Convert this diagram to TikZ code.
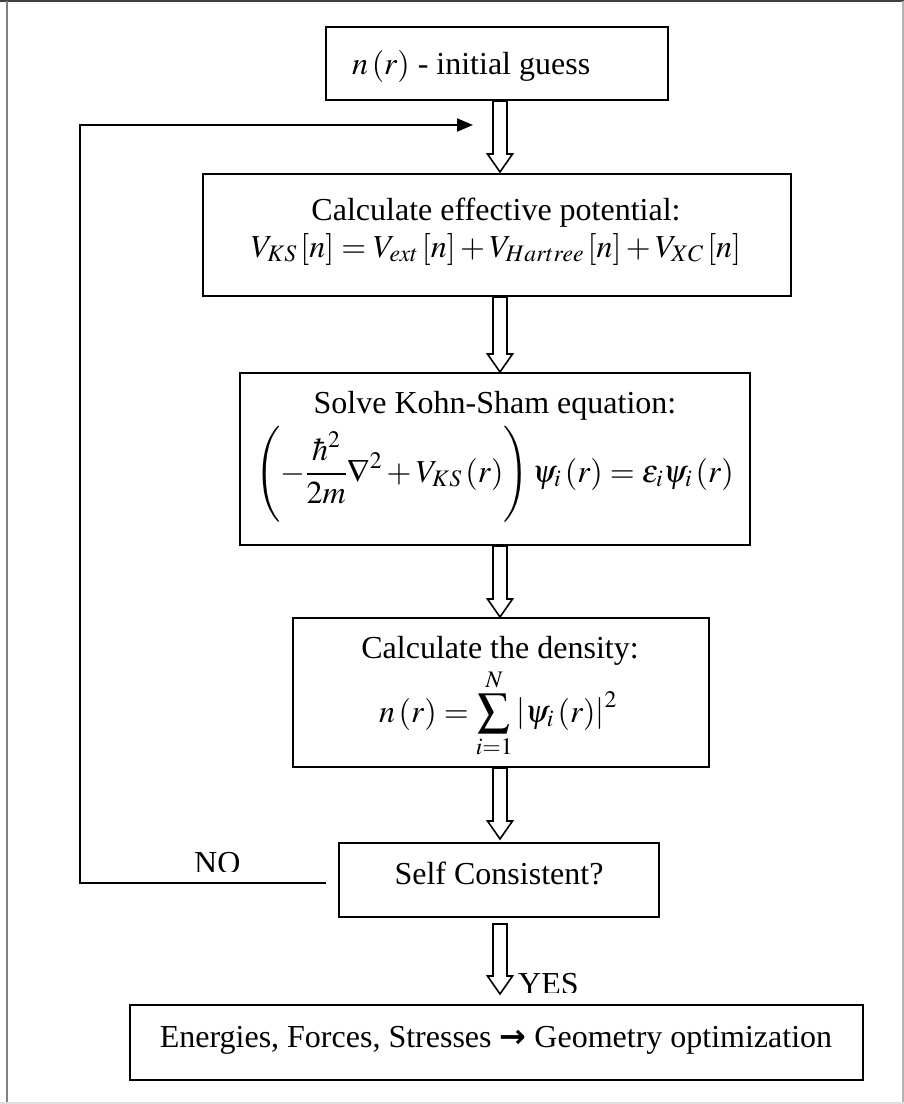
\documentclass[tikz,border=0pt]{standalone}
\usepackage{mathptmx}
\usepackage{fontspec}
\setmainfont{Liberation Serif}
\newfontfamily\arrowfont{DejaVu Sans}
\usetikzlibrary{arrows.meta,calc}
\newcommand\blockarrow[4]{%
  \draw[barrow] let \p1=(ax |- #1.south), \p2=(ax |- #2.north) in
    (\x1-7pt,\y1-#3) -- (\x1+7pt,\y1-#3) -- (\x1+7pt,\y2+#4+18pt)
    -- (\x1+12.5pt,\y2+#4+18pt) -- (\x1,\y2+#4) -- (\x1-12.5pt,\y2+#4+18pt)
    -- (\x1-7pt,\y2+#4+18pt) -- cycle;}
\begin{document}
\begin{tikzpicture}[x=1pt,y=-1pt,
  box/.style={draw=black,line width=2pt,inner sep=0pt,fill=none},
  txt/.style={inner sep=0pt,font=\fontsize{32pt}{38pt}\selectfont},
  barrow/.style={draw=black,fill=white,line width=1.6pt,line join=miter},
  loopline/.style={draw=black,line width=2pt,-{Triangle[length=16pt,width=13pt]}}]
% page and frame
\fill[white] (0,0) rectangle (904,1104);
\useasboundingbox (0,0) rectangle (904,1104);
\draw[line width=2pt,black!75] (0,1) -- (904,1);
\draw[line width=1.5pt,black!50] (7,1) -- (7,1104);
\draw[line width=1.5pt,black!30] (903,1) -- (903,1104);
\draw[line width=1.5pt,black!12] (0,1103) -- (904,1103);
\coordinate (ax) at (500,0);
% boxes
\node[box,minimum width=342pt,minimum height=73pt] (guess) at (497,63.5) {};
\node[box,minimum width=588pt,minimum height=122pt] (veff) at (497,235) {};
\node[box,minimum width=510pt,minimum height=172pt] (ks) at (495,459) {};
\node[box,minimum width=416pt,minimum height=149pt] (dens) at (501,692.5) {};
\node[box,minimum width=320pt,minimum height=74pt] (sc) at (499,880) {};
\node[box,minimum width=733pt,minimum height=75pt] (out) at (496.5,1042.5) {};
% texts
\node[txt,anchor=base west] (guesstxt) at (352,74) {$n\left(r\right)$ - initial guess};
\node[txt,anchor=base] (vefftxt) at (496,220) {Calculate effective potential:};
\node[txt,anchor=base] (vefffor) at (496,257) {$V_{KS}\left[n\right]=V_{ext}\left[n\right]+V_{Hartree}\left[n\right]+V_{XC}\left[n\right]$};
\node[txt,anchor=base] (kstxt) at (495,413) {Solve Kohn-Sham equation:};
\node[txt,anchor=base] (ksfor) at (494.5,482) {$\displaystyle\left(-\frac{\hbar^2}{2m}\nabla^2+V_{KS}\left(r\right)\right)\psi_i\left(r\right)=\varepsilon_i\psi_i\left(r\right)$};
\node[txt,anchor=base] (denstxt) at (500,658) {Calculate the density:};
\node[txt,anchor=base] (densfor) at (498,722) {$\displaystyle n\left(r\right)=\sum_{i=1}^{N}\left|\psi_i\left(r\right)\right|^2$};
\node[txt,anchor=base] (sctxt) at (499,884) {Self Consistent?};
\node[txt,anchor=base] (outtxt) at (496,1047) {Energies, Forces, Stresses {\arrowfont\bfseries →} Geometry optimization};
\begin{scope}
  \clip (150,840) rectangle (300,871);
  \node[txt,anchor=base west] (no) at (194,873) {NO};
\end{scope}
\begin{scope}
  \clip (510,960) rectangle (600,992);
  \node[txt,anchor=base west] (yes) at (518,994) {YES};
\end{scope}
% block arrows
\blockarrow{guess}{veff}{0pt}{1pt}
\blockarrow{veff}{ks}{0pt}{0pt}
\blockarrow{ks}{dens}{0pt}{0pt}
\blockarrow{dens}{sc}{0pt}{3pt}
\blockarrow{sc}{out}{6pt}{10pt}
% loop back
\coordinate (noend) at (326,883);
\coordinate (corner) at (80,125);
\coordinate (looptip) at (473,125);
\draw[loopline] (noend) -| (corner) -- (looptip);
\end{tikzpicture}
\end{document}
